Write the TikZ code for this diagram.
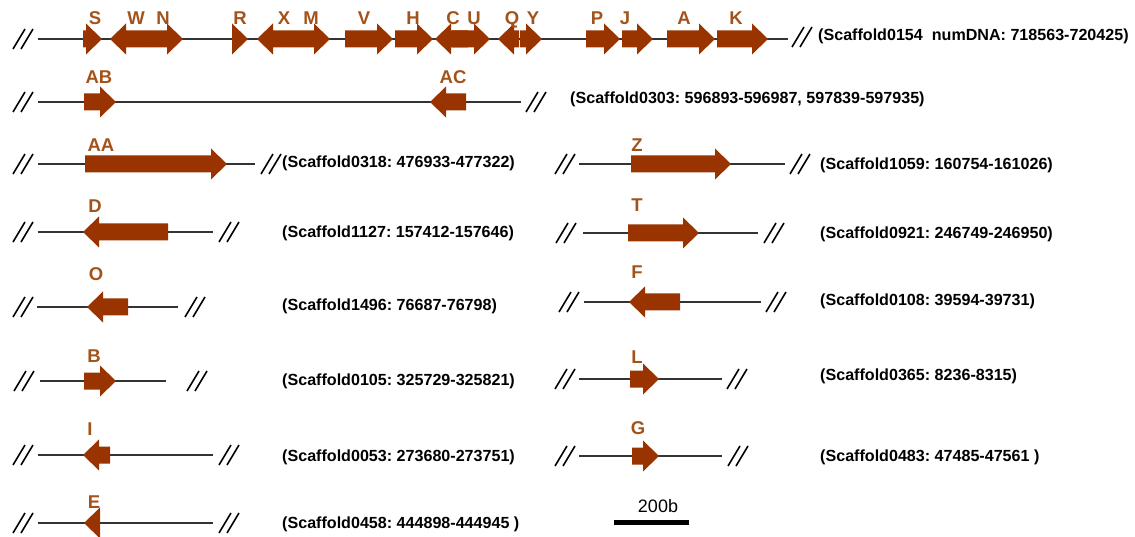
\documentclass[tikz,border=0pt]{standalone}
\usepackage{fontspec}
\setmainfont{Liberation Sans}
\frenchspacing
\definecolor{genec}{HTML}{993300}
\definecolor{labc}{HTML}{A3531A}
\definecolor{linec}{HTML}{333333}
\tikzset{
  lab/.style={font=\fontsize{18.5}{18.5}\selectfont\bfseries, text=labc, inner sep=0pt, text height=13.3pt, text depth=0pt},
  info/.style={font=\fontsize{16.1}{16}\selectfont\bfseries, text=black, inner sep=0pt, anchor=west},
  backbone/.style={draw=linec, line width=1.6pt},
  brkline/.style={draw=black, line width=1.6pt},
  genefill/.style={fill=genec}
}
% right-pointing gene: start x, tip x, y
\newcommand\rgene[3]{\fill[genefill] (#1,#3-8.5) -- (#2-16,#3-8.5) -- (#2-16,#3-15.5) -- (#2,#3) -- (#2-16,#3+15.5) -- (#2-16,#3+8.5) -- (#1,#3+8.5) -- cycle;}
% left-pointing gene: tip x, end x, y
\newcommand\lgene[3]{\fill[genefill] (#2,#3-8.5) -- (#1+16,#3-8.5) -- (#1+16,#3-15.5) -- (#1,#3) -- (#1+16,#3+15.5) -- (#1+16,#3+8.5) -- (#2,#3+8.5) -- cycle;}
% break mark: left x, y
\newcommand\brkmark[2]{\draw[brkline] (#1+1,#2+10) -- (#1+13,#2-10) (#1+9,#2+10) -- (#1+21,#2-10);}
\begin{document}
\begin{tikzpicture}[x=1pt,y=-1pt]
\useasboundingbox (0,0) rectangle (1135,537);
% ---------- row 1
\draw[backbone] (38,39) -- (788,39);
\brkmark{12}{39}\brkmark{791}{37}
\rgene{83}{102}{39}
\lgene{110}{148}{39}
\rgene{148}{183}{39}
\rgene{232}{248}{39}
\lgene{257}{295}{39}
\rgene{295}{330}{39}
\rgene{345}{393}{39}
\rgene{395}{433}{39}
\lgene{435}{468}{39}
\rgene{452}{490}{39}
\lgene{498}{519}{39}
\rgene{520}{542}{39}
\rgene{586}{620}{39}
\rgene{622}{653}{39}
\rgene{667}{715}{39}
\rgene{717}{768}{39}
\node[lab] (gS) at (95,18) {S};
\node[lab] (gW) at (136,18) {W};
\node[lab] (gN) at (163,18) {N};
\node[lab] (gR) at (240,18) {R};
\node[lab] (gX) at (284,18) {X};
\node[lab] (gM) at (311,18) {M};
\node[lab] (gV) at (364,18) {V};
\node[lab] (gH) at (413,18) {H};
\node[lab] (gC) at (453,18) {C};
\node[lab] (gU) at (474,18) {U};
\node[lab] (gQ) at (512,18) {Q};
\node[lab] (gY) at (533,18) {Y};
\node[lab] (gP) at (597,18) {P};
\node[lab] (gJ) at (625,18) {J};
\node[lab] (gA) at (684,18) {A};
\node[lab] (gK) at (736,18) {K};
\node[info] (t1) at (818,36) {(Scaffold0154\ \ numDNA: 718563-720425)};
% ---------- row 2
\draw[backbone] (38,102) -- (521,102);
\brkmark{12}{102}\brkmark{525}{102}
\rgene{84}{116}{102}
\lgene{430}{466}{102}
\node[lab] (gAB) at (99,77) {AB};
\node[lab] (gAC) at (453,77) {AC};
\node[info] (t2) at (570,99) {(Scaffold0303: 596893-596987, 597839-597935)};
% ---------- row 3
\draw[backbone] (38,164) -- (255,164);
\brkmark{12}{164}\brkmark{260}{164}
\rgene{85}{227}{164}
\node[lab] (gAA) at (101,145) {AA};
\node[info] (t3) at (282,163) {(Scaffold0318: 476933-477322)};
\draw[backbone] (579,164) -- (785,164);
\brkmark{554}{164}\brkmark{789}{164}
\rgene{631}{731}{164}
\node[lab] (gZ) at (637,145) {Z};
\node[info] (t4) at (820,165) {(Scaffold1059: 160754-161026)};
% ---------- row 4
\draw[backbone] (38,232) -- (213,232);
\brkmark{12}{232}\brkmark{218}{232}
\lgene{83}{168}{232}
\node[lab] (gD) at (95,206) {D};
\node[info] (t5) at (282,233) {(Scaffold1127: 157412-157646)};
\draw[backbone] (583,233) -- (758,233);
\brkmark{555}{233}\brkmark{763}{233}
\rgene{628}{699}{233}
\node[lab] (gT) at (637,205) {T};
\node[info] (t6) at (820,234) {(Scaffold0921: 246749-246950)};
% ---------- row 5
\draw[backbone] (37,307) -- (178,307);
\brkmark{12}{307}\brkmark{184}{307}
\lgene{87}{128}{307}
\node[lab] (gO) at (96,274) {O};
\node[info] (t7) at (282,306) {(Scaffold1496: 76687-76798)};
\draw[backbone] (584,302) -- (761,302);
\brkmark{558}{302}\brkmark{765}{302}
\lgene{629}{680}{302}
\node[lab] (gF) at (637,272) {F};
\node[info] (t8) at (820,301) {(Scaffold0108: 39594-39731)};
% ---------- row 6
\draw[backbone] (40,381) -- (166,381);
\brkmark{13}{381}\brkmark{186}{381}
\rgene{84}{116}{381}
\node[lab] (gB) at (94,356) {B};
\node[info] (t9) at (282,381) {(Scaffold0105: 325729-325821)};
\draw[backbone] (579,379) -- (722,379);
\brkmark{554}{379}\brkmark{726}{379}
\rgene{630}{659}{379}
\node[lab] (gL) at (637,357) {L};
\node[info] (t10) at (820,376) {(Scaffold0365: 8236-8315)};
% ---------- row 7
\draw[backbone] (38,455) -- (213,455);
\brkmark{12}{455}\brkmark{218}{455}
\lgene{83}{110}{455}
\node[lab] (gI) at (90,429) {I};
\node[info] (t11) at (282,457) {(Scaffold0053: 273680-273751)};
\draw[backbone] (579,456) -- (722,456);
\brkmark{554}{456}\brkmark{727}{456}
\rgene{632}{659}{456}
\node[lab] (gG) at (638,428) {G};
\node[info] (t12) at (820,457) {(Scaffold0483: 47485-47561 )};
% ---------- row 8
\draw[backbone] (38,523) -- (213,523);
\brkmark{12}{523}\brkmark{218}{523}
\lgene{84}{100}{523}
\node[lab] (gE) at (94,502) {E};
\node[info] (t13) at (282,524) {(Scaffold0458: 444898-444945 )};
% ---------- scale bar
\coordinate (sb1) at (614,522);
\coordinate (sb2) at (689,522);
\draw[line width=5pt, black] (sb1) -- (sb2);
\node[font=\fontsize{18}{18}\selectfont, inner sep=0pt] (sbt) at (658,506) {200b};
\end{tikzpicture}
\end{document}
